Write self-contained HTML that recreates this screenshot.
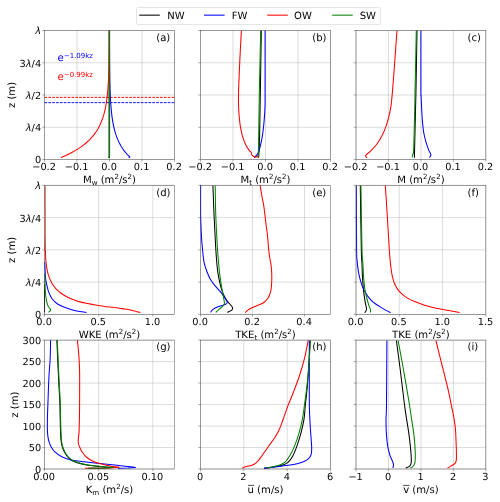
<!DOCTYPE html>
<html lang="en">
<head>
<meta charset="utf-8">
<title>Vertical profiles: NW, FW, OW, SW</title>
<style>
html,body{margin:0;padding:0;background:#fff;}
body{width:500px;height:502px;overflow:hidden;}
svg{display:block;will-change:transform;text-rendering:geometricPrecision;}
text{white-space:pre;}
</style>
</head>
<body>
<svg width="500" height="502" viewBox="0 0 500 502" font-family="'DejaVu Sans', 'Liberation Sans', sans-serif" font-size="10.1" fill="#000">
<rect width="500" height="502" fill="#fff"/>
<defs>
<clipPath id="cp-a"><rect x="44.00" y="30.00" width="131.00" height="130.00"/></clipPath>
<clipPath id="cp-b"><rect x="200.00" y="30.00" width="131.00" height="130.00"/></clipPath>
<clipPath id="cp-c"><rect x="355.50" y="30.00" width="130.85" height="130.00"/></clipPath>
<clipPath id="cp-d"><rect x="44.00" y="184.80" width="131.00" height="130.10"/></clipPath>
<clipPath id="cp-e"><rect x="200.00" y="184.80" width="131.00" height="130.10"/></clipPath>
<clipPath id="cp-f"><rect x="355.50" y="184.80" width="130.85" height="130.10"/></clipPath>
<clipPath id="cp-g"><rect x="44.00" y="339.60" width="131.00" height="129.90"/></clipPath>
<clipPath id="cp-h"><rect x="200.00" y="339.60" width="131.00" height="129.90"/></clipPath>
<clipPath id="cp-i"><rect x="355.50" y="339.60" width="130.85" height="129.90"/></clipPath>
<linearGradient id="gd44" x1="0" y1="0" x2="0" y2="1"><stop offset="0" stop-color="rgb(170,120,115)"/><stop offset="0.78" stop-color="rgb(168,118,112)"/><stop offset="1" stop-color="rgb(150,100,95)"/></linearGradient>
<linearGradient id="gd45" x1="0" y1="0" x2="0" y2="1"><stop offset="0" stop-color="rgb(205,140,120)"/><stop offset="0.78" stop-color="rgb(203,125,105)"/><stop offset="1" stop-color="rgb(215,70,55)"/></linearGradient>
</defs>
<g id="panel-a">
<path d="M44.50,30.5V159.5M77.00,30.5V159.5M109.50,30.5V159.5M142.00,30.5V159.5M174.50,30.5V159.5M44.5,30.50H174.5M44.5,62.75H174.5M44.5,95.00H174.5M44.5,127.25H174.5M44.5,159.50H174.5" stroke="#b0b0b0" stroke-width="0.45" fill="none"/>
<g clip-path="url(#cp-a)" fill="none" stroke-width="1.05" stroke-linejoin="round" stroke-linecap="butt">
<path d="M44.5,97.35H174.5" stroke="#ff0000" stroke-width="0.95" stroke-dasharray="2.7,1.15"/>
<path d="M44.5,102.65H174.5" stroke="#0000ff" stroke-width="0.95" stroke-dasharray="2.7,1.15"/>
<path d="M109.10,30.50 L109.10,156.50 L108.70,158.00" stroke="#000000"/>
<path d="M128.70,157.90 L129.90,157.00 L129.15,156.40 L128.97,156.22 L128.61,155.85 L128.13,155.36 L127.55,154.75 L126.91,154.04 L126.20,153.24 L125.46,152.35 L124.69,151.39 L123.90,150.35 L123.10,149.24 L122.30,148.06 L121.50,146.81 L120.72,145.50 L119.95,144.13 L119.21,142.70 L118.49,141.21 L117.80,139.66 L117.14,138.06 L116.52,136.40 L115.92,134.69 L115.36,132.93 L114.84,131.12 L114.35,129.25 L113.89,127.34 L113.46,125.38 L113.07,123.37 L112.71,121.31 L112.38,119.21 L112.07,117.06 L111.79,114.87 L111.54,112.63 L111.31,110.35 L111.10,108.03 L110.91,105.66 L110.74,103.25 L110.59,100.80 L110.45,98.31 L110.33,95.78 L110.22,93.20 L110.12,90.59 L110.04,87.94 L109.96,85.25 L109.90,82.52 L109.84,79.75 L109.78,76.94 L109.74,74.10 L109.70,71.22 L109.67,68.30 L109.63,65.35 L109.61,62.35 L109.59,59.33 L109.57,56.26 L109.55,53.17 L109.53,50.03 L109.52,46.86 L109.51,43.66 L109.50,40.42 L109.49,37.15 L109.49,33.84 L109.48,30.50" stroke="#0000ff"/>
<path d="M60.89,157.60 L61.33,157.42 L62.21,157.05 L63.38,156.55 L64.78,155.93 L66.35,155.22 L68.05,154.41 L69.86,153.51 L71.74,152.54 L73.67,151.49 L75.62,150.37 L77.58,149.18 L79.52,147.92 L81.43,146.60 L83.31,145.21 L85.13,143.77 L86.89,142.26 L88.59,140.70 L90.21,139.08 L91.75,137.41 L93.22,135.68 L94.60,133.91 L95.90,132.07 L97.12,130.19 L98.25,128.26 L99.31,126.28 L100.28,124.25 L101.19,122.18 L102.02,120.05 L102.78,117.89 L103.48,115.67 L104.12,113.41 L104.70,111.11 L105.22,108.77 L105.70,106.38 L106.13,103.94 L106.52,101.47 L106.86,98.96 L107.17,96.40 L107.45,93.80 L107.70,91.16 L107.92,88.49 L108.11,85.77 L108.28,83.01 L108.44,80.22 L108.57,77.39 L108.69,74.52 L108.79,71.61 L108.88,68.66 L108.96,65.68 L109.03,62.66 L109.09,59.60 L109.14,56.51 L109.19,53.38 L109.22,50.22 L109.26,47.02 L109.29,43.78 L109.31,40.51 L109.33,37.21 L109.35,33.87 L109.37,30.50" stroke="#ff0000"/>
<path d="M109.60,30.50 L109.60,156.50 L109.20,158.00" stroke="#008000"/>
</g>
<path d="M44.50,159.5v2.2M77.00,159.5v2.2M109.50,159.5v2.2M142.00,159.5v2.2M174.50,159.5v2.2M44.5,30.50h-2.2M44.5,62.75h-2.2M44.5,95.00h-2.2M44.5,127.25h-2.2M44.5,159.50h-2.2" stroke="#555" stroke-width="0.5" fill="none"/>
<rect x="44.5" y="30.5" width="130.00" height="129.00" fill="none" stroke="#555" stroke-width="0.5"/>
<text x="44.10" y="170.10" text-anchor="middle" font-size="9.75">−0.2</text>
<text x="76.60" y="170.10" text-anchor="middle" font-size="9.75">−0.1</text>
<text x="109.10" y="170.10" text-anchor="middle" font-size="9.75">0.0</text>
<text x="141.60" y="170.10" text-anchor="middle" font-size="9.75">0.1</text>
<text x="174.10" y="170.10" text-anchor="middle" font-size="9.75">0.2</text>
<text x="41.10" y="34.10" text-anchor="end" font-size="9.75"><tspan font-style="italic">λ</tspan></text>
<text x="41.10" y="67.10" text-anchor="end" font-size="9.75">3<tspan font-style="italic">λ</tspan>/4</text>
<text x="41.10" y="99.10" text-anchor="end" font-size="9.75"><tspan font-style="italic">λ</tspan>/2</text>
<text x="41.10" y="131.10" text-anchor="end" font-size="9.75"><tspan font-style="italic">λ</tspan>/4</text>
<text x="41.10" y="163.10" text-anchor="end" font-size="9.75">0</text>
<text transform="translate(14.8,95.00) rotate(-90)" text-anchor="middle">z (m)</text>
<text x="109.50" y="183.10" text-anchor="middle">M<tspan font-size="7.07" dy="2">w</tspan><tspan dy="-2"> </tspan>(m<tspan font-size="7.07" dy="-4">2</tspan><tspan dy="4">/s</tspan><tspan font-size="7.07" dy="-4">2</tspan><tspan dy="4">)</tspan></text>
<text x="156.20" y="41.10">(a)</text>
<text x="57.6" y="61.1" fill="#0000ff">e<tspan font-size="7.0" dy="-3.0">−1.09kz</tspan></text>
<text x="57.6" y="80.1" fill="#ff0000">e<tspan font-size="7.0" dy="-3.0">−0.99kz</tspan></text>
</g>
<g id="panel-b">
<path d="M200.50,30.5V159.5M233.00,30.5V159.5M265.50,30.5V159.5M298.00,30.5V159.5M330.50,30.5V159.5M200.5,30.50H330.5M200.5,62.75H330.5M200.5,95.00H330.5M200.5,127.25H330.5M200.5,159.50H330.5" stroke="#b0b0b0" stroke-width="0.45" fill="none"/>
<g clip-path="url(#cp-b)" fill="none" stroke-width="1.05" stroke-linejoin="round" stroke-linecap="butt">
<path d="M261.30,30.50 C261.13,41.08 260.58,76.48 260.30,94.00 C260.02,111.52 259.83,125.58 259.60,135.60 C259.37,145.62 259.12,150.43 258.90,154.10 C258.68,157.77 258.40,157.02 258.30,157.60" stroke="#000000"/>
<path d="M265.10,30.50 C265.10,41.42 265.13,82.88 265.10,96.00 C265.07,109.12 265.05,105.23 264.90,109.20 C264.75,113.17 264.47,116.50 264.20,119.80 C263.93,123.10 263.67,125.93 263.30,129.00 C262.93,132.07 262.50,135.33 262.00,138.20 C261.50,141.07 260.92,143.77 260.30,146.20 C259.68,148.63 259.08,151.15 258.30,152.80 C257.52,154.45 256.27,155.27 255.60,156.10 C254.93,156.93 254.52,157.52 254.30,157.80" stroke="#0000ff"/>
<path d="M241.40,30.50 C241.13,35.58 240.28,50.42 239.80,61.00 C239.32,71.58 238.68,85.97 238.50,94.00 C238.32,102.03 238.48,104.47 238.70,109.20 C238.92,113.93 239.40,118.88 239.80,122.40 C240.20,125.92 240.55,127.67 241.10,130.30 C241.65,132.93 242.33,135.78 243.10,138.20 C243.87,140.62 244.72,142.82 245.70,144.80 C246.68,146.78 248.05,148.77 249.00,150.10 C249.95,151.43 250.92,151.97 251.40,152.80 C251.88,153.63 251.52,154.48 251.90,155.10 C252.28,155.72 253.03,156.18 253.70,156.50 C254.37,156.82 255.25,157.07 255.90,157.00 C256.55,156.93 257.10,155.97 257.60,156.10 C258.10,156.23 258.68,157.52 258.90,157.80" stroke="#ff0000"/>
<path d="M260.70,30.50 C260.47,41.08 259.63,76.48 259.30,94.00 C258.97,111.52 258.87,125.58 258.70,135.60 C258.53,145.62 258.48,150.47 258.30,154.10 C258.12,157.73 257.72,156.85 257.60,157.40" stroke="#008000"/>
</g>
<path d="M200.50,159.5v2.2M233.00,159.5v2.2M265.50,159.5v2.2M298.00,159.5v2.2M330.50,159.5v2.2M200.5,30.50h-2.2M200.5,62.75h-2.2M200.5,95.00h-2.2M200.5,127.25h-2.2M200.5,159.50h-2.2" stroke="#555" stroke-width="0.5" fill="none"/>
<rect x="200.5" y="30.5" width="130.00" height="129.00" fill="none" stroke="#555" stroke-width="0.5"/>
<text x="200.10" y="170.10" text-anchor="middle" font-size="9.75">−0.2</text>
<text x="232.60" y="170.10" text-anchor="middle" font-size="9.75">−0.1</text>
<text x="265.10" y="170.10" text-anchor="middle" font-size="9.75">0.0</text>
<text x="297.60" y="170.10" text-anchor="middle" font-size="9.75">0.1</text>
<text x="330.10" y="170.10" text-anchor="middle" font-size="9.75">0.2</text>
<text x="265.50" y="183.10" text-anchor="middle">M<tspan font-size="7.07" dy="2">t</tspan><tspan dy="-2"> </tspan>(m<tspan font-size="7.07" dy="-4">2</tspan><tspan dy="4">/s</tspan><tspan font-size="7.07" dy="-4">2</tspan><tspan dy="4">)</tspan></text>
<text x="312.20" y="41.10">(b)</text>
</g>
<g id="panel-c">
<path d="M356.00,30.5V159.5M388.46,30.5V159.5M420.93,30.5V159.5M453.39,30.5V159.5M485.85,30.5V159.5M356.0,30.50H485.85M356.0,62.75H485.85M356.0,95.00H485.85M356.0,127.25H485.85M356.0,159.50H485.85" stroke="#b0b0b0" stroke-width="0.45" fill="none"/>
<g clip-path="url(#cp-c)" fill="none" stroke-width="1.05" stroke-linejoin="round" stroke-linecap="butt">
<path d="M417.00,30.50 C416.82,41.08 416.15,80.75 415.90,94.00 C415.65,107.25 415.72,100.87 415.50,110.00 C415.28,119.13 414.78,140.83 414.60,148.80 C414.42,156.77 414.43,156.30 414.40,157.80" stroke="#000000"/>
<path d="M420.90,30.50 C420.90,40.42 420.87,79.08 420.90,90.00 C420.93,100.92 420.97,92.80 421.10,96.00 C421.23,99.20 421.47,104.80 421.70,109.20 C421.93,113.60 422.15,118.43 422.50,122.40 C422.85,126.37 423.22,129.70 423.80,133.00 C424.38,136.30 425.18,139.35 426.00,142.20 C426.82,145.05 427.88,148.02 428.70,150.10 C429.52,152.18 430.75,153.48 430.90,154.70 C431.05,155.92 429.82,156.95 429.60,157.40" stroke="#0000ff"/>
<path d="M397.00,30.50 C396.63,35.58 395.53,51.08 394.80,61.00 C394.07,70.92 393.25,82.40 392.60,90.00 C391.95,97.60 391.55,102.08 390.90,106.60 C390.25,111.12 389.52,113.80 388.70,117.10 C387.88,120.40 387.10,123.32 386.00,126.40 C384.90,129.48 383.63,132.63 382.10,135.60 C380.57,138.57 378.68,141.67 376.80,144.20 C374.92,146.73 372.57,149.05 370.80,150.80 C369.03,152.55 367.08,153.85 366.20,154.70 C365.32,155.55 365.38,155.38 365.50,155.90 C365.62,156.42 366.67,157.48 366.90,157.80" stroke="#ff0000"/>
<path d="M416.30,30.50 C416.08,41.08 415.27,80.75 415.00,94.00 C414.73,107.25 414.92,100.87 414.70,110.00 C414.48,119.13 414.00,141.45 413.70,148.80 C413.40,156.15 413.17,152.67 412.90,154.10 C412.63,155.53 412.23,156.85 412.10,157.40" stroke="#008000"/>
</g>
<path d="M356.00,159.5v2.2M388.46,159.5v2.2M420.93,159.5v2.2M453.39,159.5v2.2M485.85,159.5v2.2M356.0,30.50h-2.2M356.0,62.75h-2.2M356.0,95.00h-2.2M356.0,127.25h-2.2M356.0,159.50h-2.2" stroke="#555" stroke-width="0.5" fill="none"/>
<rect x="356.0" y="30.5" width="129.85" height="129.00" fill="none" stroke="#555" stroke-width="0.5"/>
<text x="355.60" y="170.10" text-anchor="middle" font-size="9.75">−0.2</text>
<text x="388.06" y="170.10" text-anchor="middle" font-size="9.75">−0.1</text>
<text x="420.53" y="170.10" text-anchor="middle" font-size="9.75">0.0</text>
<text x="452.99" y="170.10" text-anchor="middle" font-size="9.75">0.1</text>
<text x="485.45" y="170.10" text-anchor="middle" font-size="9.75">0.2</text>
<text x="420.93" y="183.10" text-anchor="middle">M (m<tspan font-size="7.07" dy="-4">2</tspan><tspan dy="4">/s</tspan><tspan font-size="7.07" dy="-4">2</tspan><tspan dy="4">)</tspan></text>
<text x="467.55" y="41.10">(c)</text>
</g>
<g id="panel-d">
<path d="M44.50,185.3V314.4M98.67,185.3V314.4M152.83,185.3V314.4M44.5,185.30H174.5M44.5,217.57H174.5M44.5,249.85H174.5M44.5,282.12H174.5M44.5,314.40H174.5" stroke="#b0b0b0" stroke-width="0.45" fill="none"/>
<g clip-path="url(#cp-d)" fill="none" stroke-width="1.05" stroke-linejoin="round" stroke-linecap="butt">
<path d="M44.50,284.00 L44.50,312.50" stroke="#000000"/>
<path d="M44.70,262.00 C44.75,263.03 44.87,265.63 45.00,268.20 C45.13,270.77 45.23,274.77 45.50,277.40 C45.77,280.03 46.08,281.58 46.60,284.00 C47.12,286.42 47.72,289.48 48.60,291.90 C49.48,294.32 50.47,296.52 51.90,298.50 C53.33,300.48 55.22,302.37 57.20,303.80 C59.18,305.23 61.38,306.12 63.80,307.10 C66.22,308.08 69.07,308.97 71.70,309.70 C74.33,310.43 77.13,311.05 79.60,311.50 C82.07,311.95 85.35,312.25 86.50,312.40" stroke="#0000ff"/>
<path d="M44.80,274.00 C44.83,275.23 44.88,278.20 45.00,281.40 C45.12,284.60 45.23,289.90 45.50,293.20 C45.77,296.50 46.15,299.00 46.60,301.20 C47.05,303.40 47.53,304.98 48.20,306.40 C48.87,307.82 50.53,308.70 50.60,309.70 C50.67,310.70 48.93,311.95 48.60,312.40" stroke="#008000"/>
<path d="M45.30,248.00 C45.33,248.67 45.40,249.73 45.50,252.00 C45.60,254.27 45.60,258.47 45.90,261.60 C46.20,264.73 46.75,268.17 47.30,270.80 C47.85,273.43 48.43,275.32 49.20,277.40 C49.97,279.48 50.80,281.43 51.90,283.30 C53.00,285.17 54.27,286.95 55.80,288.60 C57.33,290.25 59.12,291.77 61.10,293.20 C63.08,294.63 65.05,295.92 67.70,297.20 C70.35,298.48 73.70,299.83 77.00,300.90 C80.30,301.97 83.93,302.85 87.50,303.60 C91.07,304.35 94.68,304.82 98.40,305.40 C102.12,305.98 106.13,306.60 109.80,307.10 C113.47,307.60 117.10,307.97 120.40,308.40 C123.70,308.83 127.18,309.25 129.60,309.70 C132.02,310.15 133.10,310.62 134.90,311.10 C136.70,311.58 139.48,312.35 140.40,312.60" stroke="#ff0000"/>
</g>
<path d="M44.50,314.4v2.2M98.67,314.4v2.2M152.83,314.4v2.2M44.5,185.30h-2.2M44.5,217.57h-2.2M44.5,249.85h-2.2M44.5,282.12h-2.2M44.5,314.40h-2.2" stroke="#555" stroke-width="0.5" fill="none"/>
<rect x="44.5" y="185.3" width="130.00" height="129.10" fill="none" stroke="#555" stroke-width="0.5"/>
<rect x="44" y="186" width="1" height="64" fill="url(#gd44)" shape-rendering="crispEdges"/>
<rect x="45" y="186" width="1" height="64" fill="url(#gd45)" shape-rendering="crispEdges"/>
<text x="44.10" y="325.10" text-anchor="middle" font-size="9.75">0.0</text>
<text x="98.27" y="325.10" text-anchor="middle" font-size="9.75">0.5</text>
<text x="152.43" y="325.10" text-anchor="middle" font-size="9.75">1.0</text>
<text x="41.10" y="189.10" text-anchor="end" font-size="9.75"><tspan font-style="italic">λ</tspan></text>
<text x="41.10" y="222.10" text-anchor="end" font-size="9.75">3<tspan font-style="italic">λ</tspan>/4</text>
<text x="41.10" y="254.10" text-anchor="end" font-size="9.75"><tspan font-style="italic">λ</tspan>/2</text>
<text x="41.10" y="286.10" text-anchor="end" font-size="9.75"><tspan font-style="italic">λ</tspan>/4</text>
<text x="41.10" y="318.10" text-anchor="end" font-size="9.75">0</text>
<text transform="translate(14.8,249.85) rotate(-90)" text-anchor="middle">z (m)</text>
<text x="109.50" y="338.10" text-anchor="middle">WKE (m<tspan font-size="7.07" dy="-4">2</tspan><tspan dy="4">/s</tspan><tspan font-size="7.07" dy="-4">2</tspan><tspan dy="4">)</tspan></text>
<text x="156.20" y="196.10">(d)</text>
</g>
<g id="panel-e">
<path d="M200.50,185.3V314.4M252.50,185.3V314.4M304.50,185.3V314.4M200.5,185.30H330.5M200.5,217.57H330.5M200.5,249.85H330.5M200.5,282.12H330.5M200.5,314.40H330.5" stroke="#b0b0b0" stroke-width="0.45" fill="none"/>
<g clip-path="url(#cp-e)" fill="none" stroke-width="1.05" stroke-linejoin="round" stroke-linecap="butt">
<path d="M212.90,185.50 C213.10,190.58 213.62,205.42 214.10,216.00 C214.58,226.58 215.37,241.40 215.80,249.00 C216.23,256.60 216.37,257.75 216.70,261.60 C217.03,265.45 217.28,268.58 217.80,272.10 C218.32,275.62 219.03,279.40 219.80,282.70 C220.57,286.00 221.30,289.05 222.40,291.90 C223.50,294.75 225.08,297.70 226.40,299.80 C227.72,301.90 229.27,303.17 230.30,304.50 C231.33,305.83 232.37,306.87 232.60,307.80 C232.83,308.73 232.58,309.33 231.70,310.10 C230.82,310.87 228.03,312.02 227.30,312.40" stroke="#000000"/>
<path d="M200.65,184.50 C200.65,189.75 200.49,207.02 200.65,216.00 C200.81,224.98 201.28,232.73 201.60,238.40 C201.92,244.07 202.22,246.13 202.60,250.00 C202.98,253.87 203.23,258.13 203.90,261.60 C204.57,265.07 205.50,267.83 206.60,270.80 C207.70,273.77 208.97,276.77 210.50,279.40 C212.03,282.03 214.03,284.40 215.80,286.60 C217.57,288.80 219.55,290.62 221.10,292.60 C222.65,294.58 224.07,296.85 225.10,298.50 C226.13,300.15 227.30,301.50 227.30,302.50 C227.30,303.50 226.47,303.85 225.10,304.50 C223.73,305.15 221.08,305.63 219.10,306.40 C217.12,307.17 214.63,308.10 213.20,309.10 C211.77,310.10 210.95,311.85 210.50,312.40" stroke="#0000ff"/>
<path d="M260.10,184.80 C260.38,186.60 261.18,192.05 261.80,195.60 C262.42,199.15 263.23,202.48 263.80,206.10 C264.37,209.72 264.82,214.15 265.20,217.30 C265.58,220.45 265.77,222.38 266.10,225.00 C266.43,227.62 266.88,230.33 267.20,233.00 C267.52,235.67 267.77,238.33 268.00,241.00 C268.23,243.67 268.32,246.25 268.60,249.00 C268.88,251.75 269.30,254.90 269.70,257.50 C270.10,260.10 270.68,262.38 271.00,264.60 C271.32,266.82 271.47,268.70 271.60,270.80 C271.73,272.90 271.80,275.07 271.80,277.20 C271.80,279.33 271.73,281.47 271.60,283.60 C271.47,285.73 271.33,288.13 271.00,290.00 C270.67,291.87 270.12,293.43 269.60,294.80 C269.08,296.17 268.87,296.92 267.90,298.20 C266.93,299.48 265.37,301.35 263.80,302.50 C262.23,303.65 260.38,304.27 258.50,305.10 C256.62,305.93 254.27,306.67 252.50,307.50 C250.73,308.33 249.10,309.25 247.90,310.10 C246.70,310.95 245.73,312.18 245.30,312.60" stroke="#ff0000"/>
<path d="M215.20,185.50 C215.30,190.58 215.42,205.42 215.80,216.00 C216.18,226.58 217.05,241.40 217.50,249.00 C217.95,256.60 218.12,257.30 218.50,261.60 C218.88,265.90 219.25,270.40 219.80,274.80 C220.35,279.20 221.15,284.05 221.80,288.00 C222.45,291.95 223.27,295.87 223.70,298.50 C224.13,301.13 224.72,302.37 224.40,303.80 C224.08,305.23 222.90,306.00 221.80,307.10 C220.70,308.20 218.80,309.52 217.80,310.40 C216.80,311.28 216.13,312.07 215.80,312.40" stroke="#008000"/>
</g>
<path d="M200.50,314.4v2.2M252.50,314.4v2.2M304.50,314.4v2.2M200.5,185.30h-2.2M200.5,217.57h-2.2M200.5,249.85h-2.2M200.5,282.12h-2.2M200.5,314.40h-2.2" stroke="#555" stroke-width="0.5" fill="none"/>
<rect x="200.5" y="185.3" width="130.00" height="129.10" fill="none" stroke="#555" stroke-width="0.5"/>
<text x="200.10" y="325.10" text-anchor="middle" font-size="9.75">0.0</text>
<text x="252.10" y="325.10" text-anchor="middle" font-size="9.75">0.2</text>
<text x="304.10" y="325.10" text-anchor="middle" font-size="9.75">0.4</text>
<text x="265.50" y="338.10" text-anchor="middle">TKE<tspan font-size="7.07" dy="2">t</tspan><tspan dy="-2"> </tspan>(m<tspan font-size="7.07" dy="-4">2</tspan><tspan dy="4">/s</tspan><tspan font-size="7.07" dy="-4">2</tspan><tspan dy="4">)</tspan></text>
<text x="312.20" y="196.10">(e)</text>
</g>
<g id="panel-f">
<path d="M356.00,185.3V314.4M399.28,185.3V314.4M442.57,185.3V314.4M485.85,185.3V314.4M356.0,185.30H485.85M356.0,217.57H485.85M356.0,249.85H485.85M356.0,282.12H485.85M356.0,314.40H485.85" stroke="#b0b0b0" stroke-width="0.45" fill="none"/>
<g clip-path="url(#cp-f)" fill="none" stroke-width="1.05" stroke-linejoin="round" stroke-linecap="butt">
<path d="M360.30,185.50 C360.47,196.08 361.02,235.88 361.30,249.00 C361.58,262.12 361.80,259.47 362.00,264.20 C362.20,268.93 362.28,273.43 362.50,277.40 C362.72,281.37 363.02,284.92 363.30,288.00 C363.58,291.08 363.83,293.27 364.20,295.90 C364.57,298.53 365.12,301.72 365.50,303.80 C365.88,305.88 366.43,307.18 366.50,308.40 C366.57,309.62 366.22,310.40 365.90,311.10 C365.58,311.80 364.82,312.35 364.60,312.60" stroke="#000000"/>
<path d="M356.30,185.50 C356.35,196.08 356.45,236.32 356.60,249.00 C356.75,261.68 356.88,257.75 357.20,261.60 C357.52,265.45 357.92,268.80 358.50,272.10 C359.08,275.40 359.85,278.53 360.70,281.40 C361.55,284.27 362.47,286.88 363.60,289.30 C364.73,291.72 365.97,293.82 367.50,295.90 C369.03,297.98 370.82,300.05 372.80,301.80 C374.78,303.55 377.20,304.97 379.40,306.40 C381.60,307.83 384.13,309.37 386.00,310.40 C387.87,311.43 389.83,312.23 390.60,312.60" stroke="#0000ff"/>
<path d="M385.30,185.50 C385.63,190.58 386.63,205.25 387.30,216.00 C387.97,226.75 388.85,242.85 389.30,250.00 C389.75,257.15 389.72,255.87 390.00,258.90 C390.28,261.93 390.62,265.33 391.00,268.20 C391.38,271.07 391.77,273.68 392.30,276.10 C392.83,278.52 393.38,280.62 394.20,282.70 C395.02,284.78 395.93,286.73 397.20,288.60 C398.47,290.47 400.08,292.32 401.80,293.90 C403.52,295.48 405.38,296.82 407.50,298.10 C409.62,299.38 411.78,300.47 414.50,301.60 C417.22,302.73 420.72,303.93 423.80,304.90 C426.88,305.87 429.93,306.67 433.00,307.40 C436.07,308.13 438.90,308.65 442.20,309.30 C445.50,309.95 449.88,310.75 452.80,311.30 C455.72,311.85 458.55,312.38 459.70,312.60" stroke="#ff0000"/>
<path d="M360.90,185.50 C361.08,196.08 361.67,235.88 362.00,249.00 C362.33,262.12 362.63,259.47 362.90,264.20 C363.17,268.93 363.27,273.22 363.60,277.40 C363.93,281.58 364.35,285.78 364.90,289.30 C365.45,292.82 366.25,295.87 366.90,298.50 C367.55,301.13 368.22,303.23 368.80,305.10 C369.38,306.97 370.13,308.45 370.40,309.70 C370.67,310.95 370.40,312.12 370.40,312.60" stroke="#008000"/>
</g>
<path d="M356.00,314.4v2.2M399.28,314.4v2.2M442.57,314.4v2.2M485.85,314.4v2.2M356.0,185.30h-2.2M356.0,217.57h-2.2M356.0,249.85h-2.2M356.0,282.12h-2.2M356.0,314.40h-2.2" stroke="#555" stroke-width="0.5" fill="none"/>
<rect x="356.0" y="185.3" width="129.85" height="129.10" fill="none" stroke="#555" stroke-width="0.5"/>
<text x="355.60" y="325.10" text-anchor="middle" font-size="9.75">0.0</text>
<text x="398.88" y="325.10" text-anchor="middle" font-size="9.75">0.5</text>
<text x="442.17" y="325.10" text-anchor="middle" font-size="9.75">1.0</text>
<text x="485.45" y="325.10" text-anchor="middle" font-size="9.75">1.5</text>
<text x="420.93" y="338.10" text-anchor="middle">TKE (m<tspan font-size="7.07" dy="-4">2</tspan><tspan dy="4">/s</tspan><tspan font-size="7.07" dy="-4">2</tspan><tspan dy="4">)</tspan></text>
<text x="467.55" y="196.10">(f)</text>
</g>
<g id="panel-g">
<path d="M44.50,340.1V469.0M98.67,340.1V469.0M152.83,340.1V469.0M44.5,469.00H174.5M44.5,447.52H174.5M44.5,426.03H174.5M44.5,404.55H174.5M44.5,383.07H174.5M44.5,361.58H174.5M44.5,340.10H174.5" stroke="#b0b0b0" stroke-width="0.45" fill="none"/>
<g clip-path="url(#cp-g)" fill="none" stroke-width="1.05" stroke-linejoin="round" stroke-linecap="butt">
<path d="M56.90,340.00 C57.05,343.63 57.47,354.43 57.80,361.80 C58.13,369.17 58.55,377.17 58.90,384.20 C59.25,391.23 59.68,398.17 59.90,404.00 C60.12,409.83 60.08,414.47 60.20,419.20 C60.32,423.93 60.43,428.67 60.60,432.40 C60.77,436.13 60.83,438.97 61.20,441.60 C61.57,444.23 61.98,446.00 62.80,448.20 C63.62,450.40 64.78,452.88 66.10,454.80 C67.42,456.72 68.83,458.37 70.70,459.70 C72.57,461.03 74.87,461.95 77.30,462.80 C79.73,463.65 82.38,464.27 85.30,464.80 C88.22,465.33 91.68,465.65 94.80,466.00 C97.92,466.35 101.00,466.65 104.00,466.90 C107.00,467.15 111.33,467.40 112.80,467.50" stroke="#000000"/>
<path d="M112.80,467.50 L104.00,468.10 L88.50,468.30" stroke="#000000"/>
<path d="M50.60,340.00 C50.53,342.97 50.48,351.53 50.20,357.80 C49.92,364.07 49.28,369.90 48.90,377.60 C48.52,385.30 48.15,397.07 47.90,404.00 C47.65,410.93 47.47,414.47 47.40,419.20 C47.33,423.93 47.30,428.88 47.50,432.40 C47.70,435.92 47.98,437.88 48.60,440.30 C49.22,442.72 50.10,444.92 51.20,446.90 C52.30,448.88 53.43,450.55 55.20,452.20 C56.97,453.85 59.17,455.52 61.80,456.80 C64.43,458.08 67.70,459.13 71.00,459.90 C74.30,460.67 77.63,460.87 81.60,461.40 C85.57,461.93 89.30,462.48 94.80,463.10 C100.30,463.72 109.10,464.55 114.60,465.10 C120.10,465.65 124.30,466.01 127.80,466.40 C131.30,466.79 134.30,467.27 135.60,467.45" stroke="#0000ff"/>
<path d="M135.60,467.45 L128.00,467.95 L118.00,468.20" stroke="#0000ff"/>
<path d="M77.40,340.00 C77.62,342.30 78.33,348.63 78.70,353.80 C79.07,358.97 79.45,362.63 79.60,371.00 C79.75,379.37 79.63,395.97 79.60,404.00 C79.57,412.03 79.50,414.47 79.40,419.20 C79.30,423.93 79.18,429.10 79.00,432.40 C78.82,435.70 78.42,437.23 78.30,439.00 C78.18,440.77 78.08,441.68 78.30,443.00 C78.52,444.32 78.93,445.37 79.60,446.90 C80.27,448.43 81.08,450.43 82.30,452.20 C83.52,453.97 85.03,455.97 86.90,457.50 C88.77,459.03 91.08,460.30 93.50,461.40 C95.92,462.50 98.65,463.33 101.40,464.10 C104.15,464.87 107.02,465.47 110.00,466.00 C112.98,466.53 117.75,467.08 119.30,467.30" stroke="#ff0000"/>
<path d="M119.30,467.30 L110.00,468.00 L84.90,468.30" stroke="#ff0000"/>
<path d="M57.30,340.00 C57.45,343.63 57.87,354.43 58.20,361.80 C58.53,369.17 58.95,377.17 59.30,384.20 C59.65,391.23 60.08,398.17 60.30,404.00 C60.52,409.83 60.48,414.47 60.60,419.20 C60.72,423.93 60.83,428.67 61.00,432.40 C61.17,436.13 61.23,438.97 61.60,441.60 C61.97,444.23 62.38,446.00 63.20,448.20 C64.02,450.40 65.18,452.92 66.50,454.80 C67.82,456.68 69.23,458.22 71.10,459.50 C72.97,460.78 75.27,461.67 77.70,462.50 C80.13,463.33 82.85,463.97 85.70,464.50 C88.55,465.03 91.75,465.32 94.80,465.70 C97.85,466.08 100.92,466.52 104.00,466.80 C107.08,467.08 111.75,467.30 113.30,467.40" stroke="#008000"/>
<path d="M113.30,467.40 L104.00,467.95 L88.20,468.20" stroke="#008000"/>
</g>
<path d="M44.50,469.0v2.2M98.67,469.0v2.2M152.83,469.0v2.2M44.5,469.00h-2.2M44.5,447.52h-2.2M44.5,426.03h-2.2M44.5,404.55h-2.2M44.5,383.07h-2.2M44.5,361.58h-2.2M44.5,340.10h-2.2" stroke="#555" stroke-width="0.5" fill="none"/>
<rect x="44.5" y="340.1" width="130.00" height="128.90" fill="none" stroke="#555" stroke-width="0.5"/>
<text x="44.10" y="480.10" text-anchor="middle" font-size="9.75">0.00</text>
<text x="98.27" y="480.10" text-anchor="middle" font-size="9.75">0.05</text>
<text x="152.43" y="480.10" text-anchor="middle" font-size="9.75">0.10</text>
<text x="41.10" y="473.10" text-anchor="end" font-size="9.75">0</text>
<text x="41.10" y="451.10" text-anchor="end" font-size="9.75">50</text>
<text x="41.10" y="430.10" text-anchor="end" font-size="9.75">100</text>
<text x="41.10" y="408.10" text-anchor="end" font-size="9.75">150</text>
<text x="41.10" y="387.10" text-anchor="end" font-size="9.75">200</text>
<text x="41.10" y="365.10" text-anchor="end" font-size="9.75">250</text>
<text x="41.10" y="344.10" text-anchor="end" font-size="9.75">300</text>
<text transform="translate(18.0,404.55) rotate(-90)" text-anchor="middle">z (m)</text>
<text x="109.50" y="493.00" text-anchor="middle">K<tspan font-size="7.07" dy="2">m</tspan><tspan dy="-2"> </tspan>(m<tspan font-size="7.07" dy="-4">2</tspan><tspan dy="4">/s)</tspan></text>
<text x="156.20" y="350.20">(g)</text>
</g>
<g id="panel-h">
<path d="M200.50,340.1V469.0M243.83,340.1V469.0M287.17,340.1V469.0M330.50,340.1V469.0M200.5,469.00H330.5M200.5,447.52H330.5M200.5,426.03H330.5M200.5,404.55H330.5M200.5,383.07H330.5M200.5,361.58H330.5M200.5,340.10H330.5" stroke="#b0b0b0" stroke-width="0.45" fill="none"/>
<g clip-path="url(#cp-h)" fill="none" stroke-width="1.05" stroke-linejoin="round" stroke-linecap="butt">
<path d="M310.00,340.50 C309.82,344.48 309.30,357.33 308.90,364.40 C308.50,371.47 308.05,377.40 307.60,382.90 C307.15,388.40 306.57,393.88 306.20,397.40 C305.83,400.92 305.77,400.37 305.40,404.00 C305.03,407.63 304.77,414.27 304.00,419.20 C303.23,424.13 302.00,429.07 300.80,433.60 C299.60,438.13 298.13,442.67 296.80,446.40 C295.47,450.13 294.27,453.33 292.80,456.00 C291.33,458.67 289.87,460.80 288.00,462.40 C286.13,464.00 284.27,464.80 281.60,465.60 C278.93,466.40 274.93,466.75 272.00,467.20 C269.07,467.65 265.33,468.12 264.00,468.30" stroke="#000000"/>
<path d="M309.30,340.50 C309.30,349.08 309.28,380.75 309.30,392.00 C309.32,403.25 309.27,402.67 309.40,408.00 C309.53,413.33 309.80,418.67 310.10,424.00 C310.40,429.33 310.93,436.00 311.20,440.00 C311.47,444.00 311.70,445.60 311.70,448.00 C311.70,450.40 311.68,452.67 311.20,454.40 C310.72,456.13 310.00,457.20 308.80,458.40 C307.60,459.60 306.13,460.67 304.00,461.60 C301.87,462.53 298.93,463.33 296.00,464.00 C293.07,464.67 289.87,465.12 286.40,465.60 C282.93,466.08 278.93,466.45 275.20,466.90 C271.47,467.35 265.87,468.07 264.00,468.30" stroke="#0000ff"/>
<path d="M308.30,340.00 C307.68,342.97 306.03,351.97 304.60,357.80 C303.17,363.63 301.52,369.38 299.70,375.00 C297.88,380.62 295.60,386.53 293.70,391.50 C291.80,396.47 289.55,401.62 288.30,404.80 C287.05,407.98 286.93,408.53 286.20,410.60 C285.47,412.67 284.72,414.90 283.90,417.20 C283.08,419.50 282.23,422.00 281.30,424.40 C280.37,426.80 279.45,429.30 278.30,431.60 C277.15,433.90 275.78,436.10 274.40,438.20 C273.02,440.30 271.43,442.20 270.00,444.20 C268.57,446.20 267.20,448.20 265.80,450.20 C264.40,452.20 262.90,454.40 261.60,456.20 C260.30,458.00 259.10,459.73 258.00,461.00 C256.90,462.27 256.10,463.07 255.00,463.80 C253.90,464.53 252.80,464.95 251.40,465.40 C250.00,465.85 247.93,466.15 246.60,466.50 C245.27,466.85 244.10,467.18 243.40,467.50 C242.70,467.82 242.57,468.25 242.40,468.40" stroke="#ff0000"/>
<path d="M310.50,340.50 C310.23,344.48 309.43,357.33 308.90,364.40 C308.37,371.47 307.87,377.40 307.30,382.90 C306.73,388.40 305.95,393.88 305.50,397.40 C305.05,400.92 305.12,400.37 304.60,404.00 C304.08,407.63 303.35,414.27 302.40,419.20 C301.45,424.13 300.23,429.07 298.90,433.60 C297.57,438.13 295.95,442.67 294.40,446.40 C292.85,450.13 291.20,453.33 289.60,456.00 C288.00,458.67 286.67,460.80 284.80,462.40 C282.93,464.00 280.80,464.80 278.40,465.60 C276.00,466.40 272.40,466.80 270.40,467.20 C268.40,467.60 267.07,467.87 266.40,468.00" stroke="#008000"/>
</g>
<path d="M200.50,469.0v2.2M243.83,469.0v2.2M287.17,469.0v2.2M330.50,469.0v2.2M200.5,469.00h-2.2M200.5,447.52h-2.2M200.5,426.03h-2.2M200.5,404.55h-2.2M200.5,383.07h-2.2M200.5,361.58h-2.2M200.5,340.10h-2.2" stroke="#555" stroke-width="0.5" fill="none"/>
<rect x="200.5" y="340.1" width="130.00" height="128.90" fill="none" stroke="#555" stroke-width="0.5"/>
<text x="200.10" y="480.10" text-anchor="middle" font-size="9.75">0</text>
<text x="243.43" y="480.10" text-anchor="middle" font-size="9.75">2</text>
<text x="286.77" y="480.10" text-anchor="middle" font-size="9.75">4</text>
<text x="330.10" y="480.10" text-anchor="middle" font-size="9.75">6</text>
<text x="265.50" y="493.00" text-anchor="middle">u (m/s)</text>
<path d="M247.90,485.40h6.2" stroke="#000" stroke-width="0.7" fill="none"/>
<text x="312.20" y="350.20">(h)</text>
</g>
<g id="panel-i">
<path d="M356.00,340.1V469.0M388.46,340.1V469.0M420.93,340.1V469.0M453.39,340.1V469.0M485.85,340.1V469.0M356.0,469.00H485.85M356.0,447.52H485.85M356.0,426.03H485.85M356.0,404.55H485.85M356.0,383.07H485.85M356.0,361.58H485.85M356.0,340.10H485.85" stroke="#b0b0b0" stroke-width="0.45" fill="none"/>
<g clip-path="url(#cp-i)" fill="none" stroke-width="1.05" stroke-linejoin="round" stroke-linecap="butt">
<path d="M396.40,340.50 C397.07,345.58 399.07,360.42 400.40,371.00 C401.73,381.58 403.37,395.97 404.40,404.00 C405.43,412.03 405.88,414.47 406.60,419.20 C407.32,423.93 408.08,428.00 408.70,432.40 C409.32,436.80 409.88,441.63 410.30,445.60 C410.72,449.57 411.05,453.33 411.20,456.20 C411.35,459.07 411.47,461.15 411.20,462.80 C410.93,464.45 410.52,465.23 409.60,466.10 C408.68,466.97 406.35,467.68 405.70,468.00" stroke="#000000"/>
<path d="M386.90,340.50 C386.83,351.08 386.65,390.88 386.50,404.00 C386.35,417.12 386.03,414.47 386.00,419.20 C385.97,423.93 386.03,428.00 386.30,432.40 C386.57,436.80 387.02,441.87 387.60,445.60 C388.18,449.33 388.98,452.17 389.80,454.80 C390.62,457.43 391.88,459.75 392.50,461.40 C393.12,463.05 393.43,463.60 393.50,464.70 C393.57,465.80 393.00,467.45 392.90,468.00" stroke="#0000ff"/>
<path d="M435.90,340.50 C436.45,342.72 438.10,349.38 439.20,353.80 C440.30,358.22 441.40,362.60 442.50,367.00 C443.60,371.40 444.82,376.23 445.80,380.20 C446.78,384.17 447.48,386.67 448.40,390.80 C449.32,394.93 450.42,400.70 451.30,405.00 C452.18,409.30 453.02,412.70 453.70,416.60 C454.38,420.50 455.02,424.45 455.40,428.40 C455.78,432.35 455.83,436.33 456.00,440.30 C456.17,444.27 456.35,448.90 456.40,452.20 C456.45,455.50 456.53,458.23 456.30,460.10 C456.07,461.97 455.88,462.40 455.00,463.40 C454.12,464.40 452.25,465.33 451.00,466.10 C449.75,466.87 448.08,467.68 447.50,468.00" stroke="#ff0000"/>
<path d="M398.10,340.50 C399.03,345.58 401.80,360.25 403.70,371.00 C405.60,381.75 408.18,396.97 409.50,405.00 C410.82,413.03 410.92,414.63 411.60,419.20 C412.28,423.77 413.05,428.00 413.60,432.40 C414.15,436.80 414.62,441.63 414.90,445.60 C415.18,449.57 415.30,453.33 415.30,456.20 C415.30,459.07 415.30,461.08 414.90,462.80 C414.50,464.52 413.67,465.63 412.90,466.50 C412.13,467.37 410.73,467.75 410.30,468.00" stroke="#008000"/>
</g>
<path d="M356.00,469.0v2.2M388.46,469.0v2.2M420.93,469.0v2.2M453.39,469.0v2.2M485.85,469.0v2.2M356.0,469.00h-2.2M356.0,447.52h-2.2M356.0,426.03h-2.2M356.0,404.55h-2.2M356.0,383.07h-2.2M356.0,361.58h-2.2M356.0,340.10h-2.2" stroke="#555" stroke-width="0.5" fill="none"/>
<rect x="356.0" y="340.1" width="129.85" height="128.90" fill="none" stroke="#555" stroke-width="0.5"/>
<text x="355.60" y="480.10" text-anchor="middle" font-size="9.75">−1</text>
<text x="388.06" y="480.10" text-anchor="middle" font-size="9.75">0</text>
<text x="420.53" y="480.10" text-anchor="middle" font-size="9.75">1</text>
<text x="452.99" y="480.10" text-anchor="middle" font-size="9.75">2</text>
<text x="485.45" y="480.10" text-anchor="middle" font-size="9.75">3</text>
<text x="420.93" y="493.00" text-anchor="middle">v (m/s)</text>
<path d="M403.32,485.40h6.2" stroke="#000" stroke-width="0.7" fill="none"/>
<text x="467.55" y="350.20">(i)</text>
</g>
<g id="legend">
<rect x="136.5" y="7.5" width="244" height="17" rx="1.6" ry="1.6" fill="#fff" stroke="#cccccc" stroke-width="0.5"/>
<path d="M139.3,15.15H159.8" stroke="#000000" stroke-width="1.05" fill="none"/>
<text x="167.20" y="18.7" font-size="10.0">NW</text>
<path d="M204.0,15.15H224.6" stroke="#0000ff" stroke-width="1.05" fill="none"/>
<text x="231.70" y="18.7" font-size="10.0">FW</text>
<path d="M267.2,15.15H287.8" stroke="#ff0000" stroke-width="1.05" fill="none"/>
<text x="294.10" y="18.7" font-size="10.0">OW</text>
<path d="M332.2,15.15H352.7" stroke="#008000" stroke-width="1.05" fill="none"/>
<text x="359.70" y="18.7" font-size="10.0">SW</text>
</g>
</svg>
</body>
</html>
